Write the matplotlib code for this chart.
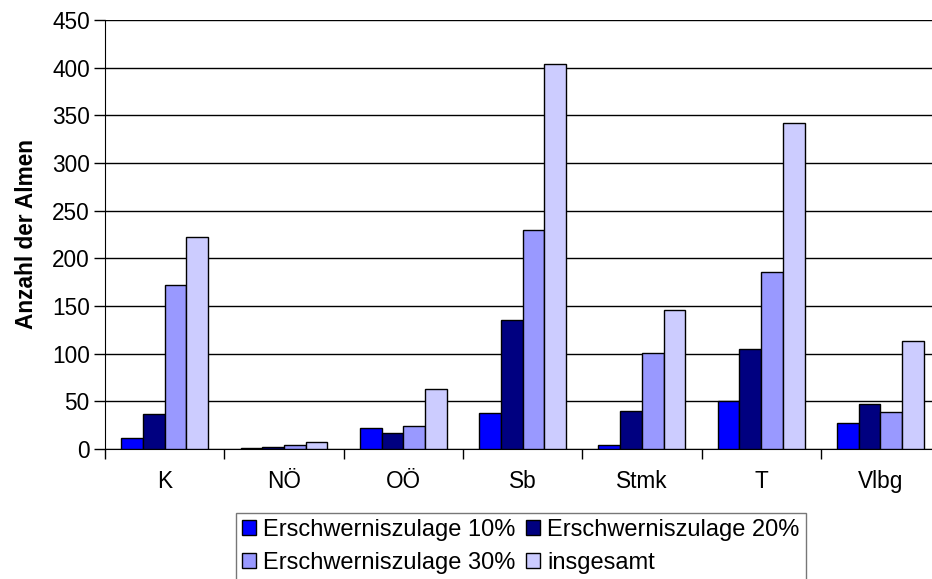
import matplotlib.pyplot as plt
import numpy as np

plt.rcParams['font.family'] = ['Liberation Sans', 'DejaVu Sans']

regions = ['K', 'NÖ', 'OÖ', 'Sb', 'Stmk', 'T', 'Vlbg']
ez10 = [12, 1, 22, 38, 4, 50, 27]
ez20 = [37, 2, 17, 135, 40, 105, 47]
ez30 = [172, 4, 24, 230, 101, 186, 39]
total = [222, 7, 63, 404, 146, 342, 113]

series = [ez10, ez20, ez30, total]
names = ['Erschwerniszulage 10%', 'Erschwerniszulage 20%',
         'Erschwerniszulage 30%', 'insgesamt']
colors = ['#0000FF', '#000080', '#9999FF', '#CCCCFF']

fig = plt.figure(figsize=(9.32, 5.79), dpi=100)
ax = fig.add_axes([0.1127, 0.2245, 0.896, 0.741])

x = np.arange(len(regions))
w = 0.182
bars = []
for i, (vals, name, c) in enumerate(zip(series, names, colors)):
    b = ax.bar(x + (i - 1.5) * w, vals, w, color=c, edgecolor='black',
               linewidth=1, label=name, zorder=3)
    bars.append(b)

ax.set_xlim(-0.5, 6.5)
ax.set_ylim(0, 450)
ax.set_yticks(range(0, 451, 50))
ax.yaxis.grid(True, color='black', linewidth=1, zorder=0)
ax.set_xticks(x)
ax.set_xticklabels(regions)
ax.set_xticks(np.arange(-0.5, 7, 1), minor=True)
ax.tick_params(axis='x', which='major', length=0, pad=15, labelsize=16.3)
ax.tick_params(axis='x', which='minor', length=7, width=1, color='black')
ax.tick_params(axis='y', length=8, width=1, labelsize=16.3, pad=3)
for s in ['top', 'right']:
    ax.spines[s].set_visible(False)
ax.set_ylabel('Anzahl der Almen', fontsize=16.3, fontweight='bold', labelpad=10)

# legend is filled column by column, so reorder for row layout
order = [0, 2, 1, 3]
leg = fig.legend([bars[i] for i in order], [names[i] for i in order],
                 ncol=2, loc='upper left', bbox_to_anchor=(236 / 932, 1 - 513 / 579),
                 fontsize=17, frameon=True, fancybox=False, edgecolor='#555555',
                 handlelength=0.6, handleheight=0.6, handletextpad=0.3,
                 columnspacing=0.45, borderpad=0.25, labelspacing=0.47,
                 borderaxespad=0)
leg.get_frame().set_linewidth(1)

fig.savefig('out.png', dpi=100)
